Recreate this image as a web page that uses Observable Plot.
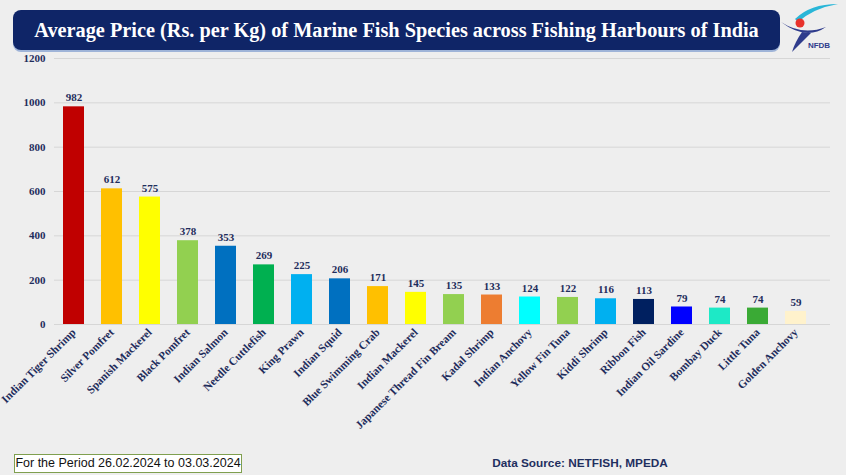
<!DOCTYPE html>
<html>
<head>
<meta charset="utf-8">
<script src="https://cdn.jsdelivr.net/npm/d3@7"></script>
<script src="https://cdn.jsdelivr.net/npm/@observablehq/plot@0.6"></script>
<style>
  html, body { margin: 0; padding: 0; width: 846px; height: 475px; background: #eeeeee; overflow: hidden; }
  #banner { position: absolute; left: 13px; top: 10px; width: 767px; height: 40px; background: #0f2567; border-radius: 8px;
    color: #fff; font-family: "Liberation Serif", serif; font-weight: bold; font-size: 20.3px; text-align: center; line-height: 40px; box-shadow: 0 2px 0 #9fb4d8; white-space: nowrap; }
  #chart { position: absolute; left: 0; top: 50px; }
  #period { position: absolute; left: 14px; top: 454px; width: 226px; height: 17px; border: 1px solid #7f9f4f; background: #fff;
    font-family: "Liberation Sans", sans-serif; font-size: 12.5px; line-height: 17px; text-align: center; color: #111; }
  #source { position: absolute; left: 480px; top: 456px; width: 200px; text-align: center; font-family: "Liberation Sans", sans-serif;
    font-weight: bold; font-size: 11.8px; color: #1f2f5f; }
  #logo { position: absolute; left: 780px; top: 0px; }
</style>
</head>
<body>
<div id="banner">Average Price (Rs. per Kg) of Marine Fish Species across Fishing Harbours of India</div>
<svg id="logo" width="66" height="58" viewBox="0 0 66 58">
  <path d="M15 19 Q30 4 58 4 Q34 8 18 22 Z" fill="#29b6d8"/>
  <circle cx="20" cy="23" r="4.5" fill="#e8322c"/>
  <path d="M1 22 Q22 36 46 27 Q26 41 1 22 Z" fill="#2f3c8c"/>
  <path d="M22 32 Q15 42 12 52 Q20 44 31 33 Z" fill="#2f3c8c"/>
  <text x="39" y="48" font-family="Liberation Sans, sans-serif" font-size="8" fill="#2f3c8c" text-anchor="middle" font-weight="bold">NFDB</text>
</svg>
<div id="chart"></div>
<div id="period">For the Period 26.02.2024 to 03.03.2024</div>
<div id="source">Data Source: NETFISH, MPEDA</div>
<script>
const species = ["Indian Tiger Shrimp", "Silver Pomfret", "Spanish Mackerel", "Black Pomfret", "Indian Salmon",
  "Needle Cuttlefish", "King Prawn", "Indian Squid", "Blue Swimming Crab", "Indian Mackerel",
  "Japanese Thread Fin Bream", "Kadal Shrimp", "Indian Anchovy", "Yellow Fin Tuna", "Kiddi Shrimp",
  "Ribbon Fish", "Indian Oil Sardine", "Bombay Duck", "Little Tuna", "Golden Anchovy"];
const prices = [982, 612, 575, 378, 353, 269, 225, 206, 171, 145, 135, 133, 124, 122, 116, 113, 79, 74, 74, 59];
const colors = ["#c00000", "#ffc000", "#ffff00", "#92d050", "#0070c0", "#00b050", "#00b0f0", "#0070c0", "#ffc000", "#ffff00",
  "#92d050", "#ed7d31", "#00ffff", "#92d050", "#00b0f0", "#002060", "#0000ff", "#1de9c6", "#3aaa35", "#fff2cc"];
const yTicks = [0, 200, 400, 600, 800, 1000, 1200];

const data = species.map((s, i) => ({species: s, price: prices[i], color: colors[i]}));
const navy = "#1f2d5c";

const chart = Plot.plot({
  width: 846,
  height: 425,
  marginTop: 8,
  marginBottom: 151,
  marginLeft: 54,
  marginRight: 32,
  style: {fontFamily: "Liberation Serif, serif", fontWeight: "bold", fontSize: "11px", color: navy, background: "transparent", overflow: "visible"},
  x: {domain: species, paddingInner: 0.46, paddingOuter: 0.23, label: null},
  y: {domain: [0, 1200], label: null},
  marks: [
    Plot.ruleY(yTicks, {stroke: "#d6d6d6", strokeWidth: 1, insetRight: -16}),
    Plot.barY(data, {x: "species", y: "price", fill: "color"}),
    Plot.text(data, {x: "species", y: "price", text: d => String(d.price), dy: -9, fill: navy, fontSize: 11, fontWeight: "bold"}),
    Plot.axisY({ticks: yTicks, tickSize: 0, tickPadding: 9, tickFormat: d => String(d), fill: navy, fontSize: 11}),
    Plot.axisX({tickSize: 0, tickRotate: -45, tickPadding: 6, fill: navy, fontSize: 11.3})
  ]
});
document.getElementById("chart").appendChild(chart);
</script>
</body>
</html>
